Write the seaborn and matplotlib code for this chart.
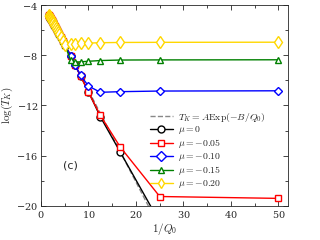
import numpy as np
import pandas as pd
import matplotlib
matplotlib.use("Agg")
import matplotlib.pyplot as plt
import seaborn as sns
from matplotlib.ticker import MultipleLocator

# 1/Q0 values: dense steep part (Q0 = 0.60 ... 0.22) and sparse tail
x_steep = [1.67, 1.72, 1.79, 1.85, 1.92, 2.00, 2.08, 2.17, 2.27, 2.38, 2.50, 2.63,
           2.78, 2.94, 3.13, 3.33, 3.57, 3.85, 4.17, 4.55]
x_tail = [5.0, 6.25, 7.14, 8.33, 10.0, 12.5, 16.67, 25.0, 50.0]

# common log(T_K) on the steep part (all mu values coincide there)
y_steep = [-4.80, -4.84, -4.88, -4.93, -4.98, -5.03, -5.09, -5.15, -5.22, -5.30, -5.38, -5.47,
           -5.58, -5.69, -5.83, -5.96, -6.13, -6.33, -6.56, -6.83]

tail_mu0 = [-7.15, -8.04, -8.75, -9.65, -10.9, -12.9, -15.7, -21.3, None]
tail_mu005 = [-7.15, -8.04, -8.75, -9.65, -10.95, -12.79, -15.3, -19.25, -19.4]
tail_mu010 = [-7.15, -8.04, -8.75, -9.6, -10.45, -10.95, -10.9, -10.85, -10.83]
tail_mu015 = [-7.15, -8.4, -8.55, -8.52, -8.48, -8.42, -8.38, -8.37, -8.36]
tail_mu020 = [-7.15, -7.1, -7.07, -7.05, -7.03, -7.0, -6.98, -6.97, -6.96]

# fit: log(T_K) = logA - B/Q0
fit_logA = -3.5
fit_B = 0.73
fit_x = [1.5, 26.0]

labels = [r"$\mu=0$", r"$\mu=-0.05$", r"$\mu=-0.10$", r"$\mu=-0.15$", r"$\mu=-0.20$"]
tails = [tail_mu0, tail_mu005, tail_mu010, tail_mu015, tail_mu020]
colors = ["#000000", "#ff0000", "#0000ff", "#008000", "#ffd700"]
markers = ["o", "s", "D", "^", "d"]
msizes = [5, 5, 4.5, 5, 6]

sns.set_style("ticks")
plt.rcParams["mathtext.fontset"] = "cm"
plt.rcParams["font.family"] = ["DejaVu Serif"]
plt.rcParams["axes.formatter.use_mathtext"] = True

fig = plt.figure(figsize=(3.2, 2.4), dpi=100)
ax = fig.add_axes([0.128, 0.142, 0.772, 0.837])

fx = np.array(fit_x)
sns.lineplot(x=fx, y=fit_logA - fit_B * fx, ax=ax, color="#888888", linestyle="--",
             linewidth=1.0, label=r"$T_K=A\mathrm{Exp}(-B/Q_0)$", sort=False)

for tail, lab, c, m, ms in zip(tails, labels, colors, markers, msizes):
    df = pd.DataFrame({"x": x_steep + x_tail, "y": y_steep + tail}).dropna()
    sns.lineplot(data=df, x="x", y="y", ax=ax, color=c, marker=m, markersize=ms,
                 markerfacecolor="white", markeredgecolor=c, markeredgewidth=1.0,
                 linewidth=1.0, label=lab, sort=False)

ax.set_xlim(0, 52)
ax.set_ylim(-20, -4)
ax.xaxis.set_major_locator(MultipleLocator(10))
ax.xaxis.set_minor_locator(MultipleLocator(5))
ax.yaxis.set_major_locator(MultipleLocator(4))
ax.yaxis.set_minor_locator(MultipleLocator(2))
ax.tick_params(which="both", direction="in", top=True, right=True, labelsize=7, pad=2)
ax.tick_params(which="major", length=3.5, width=0.6)
ax.tick_params(which="minor", length=2, width=0.6)
for s in ax.spines.values():
    s.set_linewidth(0.6)

ax.set_xlabel(r"$1/Q_0$", fontsize=8, labelpad=1)
ax.set_ylabel(r"$\log(T_K)$", fontsize=8, labelpad=1)

ax.text(6.1, -16.8, "(c)", fontsize=8, family="DejaVu Sans", ha="center", va="center")

leg = ax.legend(loc="upper left", bbox_to_anchor=(0.44, 0.475), frameon=False,
                fontsize=7, handlelength=2.4, handletextpad=0.5, labelspacing=0.1,
                borderpad=0, borderaxespad=0)
for h in leg.legend_handles:
    try:
        h.set_markersize(5)
    except Exception:
        pass

fig.savefig("out.png", dpi=100)
